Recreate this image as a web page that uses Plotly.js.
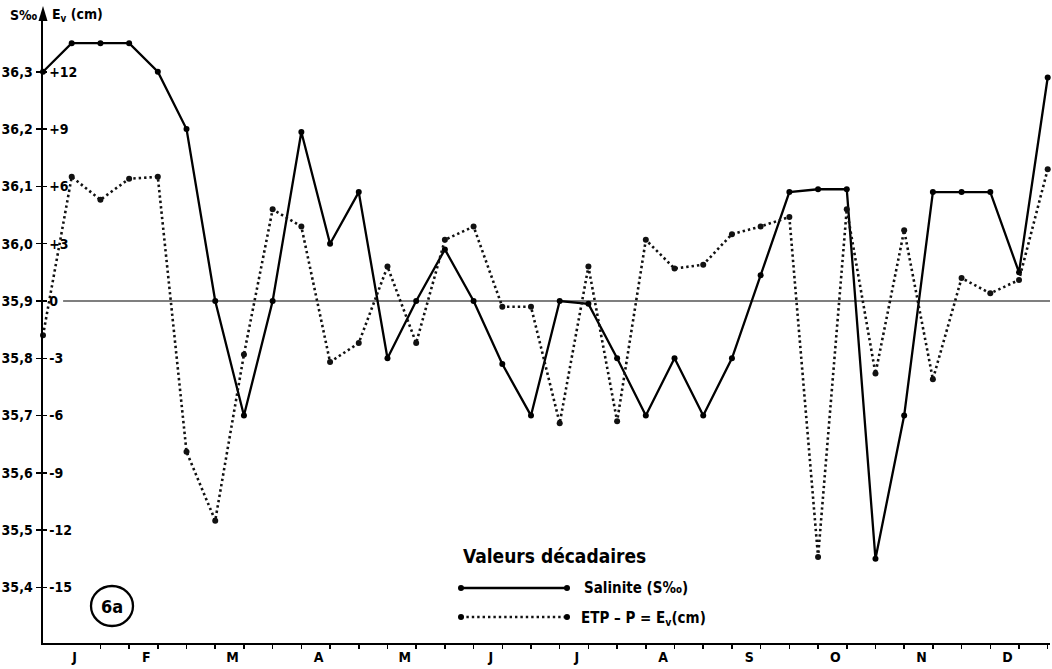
<!DOCTYPE html>
<html><head><meta charset="utf-8">
<script src="https://cdn.plot.ly/plotly-3.0.1.min.js"></script>
<style>html,body{margin:0;padding:0;background:#fff}#chart{width:1052px;height:669px}</style>
</head><body><div id="chart"></div>
<script>
// ---- data (decadal values, 36 decades) ----
const decades = [1,2,3,4,5,6,7,8,9,10,11,12,13,14,15,16,17,18,19,20,21,22,23,24,25,26,27,28,29,30,31,32,33,34,35,36];
const months = ['J','F','M','A','M','J','J','A','S','O','N','D'];
const salinity = [36.30,36.35,36.35,36.35,36.30,36.20,35.90,35.70,35.90,36.195,36.00,36.09,35.80,35.90,35.99,35.90,35.79,35.70,35.90,35.895,35.80,35.70,35.80,35.70,35.80,35.945,36.09,36.095,36.095,35.45,35.70,36.09,36.09,36.09,35.95,36.29];
const evaporation = [-1.8,6.5,5.3,6.4,6.5,-7.9,-11.5,-2.8,4.8,3.9,-3.2,-2.2,1.8,-2.2,3.2,3.9,-0.3,-0.3,-6.4,1.8,-6.3,3.2,1.7,1.9,3.5,3.9,4.4,-13.4,4.8,-3.8,3.7,-4.1,1.2,0.4,1.1,6.9];
const salTicks = [35.4,35.5,35.6,35.7,35.8,35.9,36.0,36.1,36.2,36.3];
const salTickText = ['35,4','35,5','35,6','35,7','35,8','35,9','36,0','36,1','36,2','36,3'];
const evTicks = [-15,-12,-9,-6,-3,0,3,6,9,12];
const evTickText = ['-15','-12','-9','-6','-3','0','+3','+6','+9','+12'];
const salRef = 35.9;      // salinity level matching Ev = 0
const evPerSal = 30;      // 0.1 S‰ <-> 3 cm

// ---- layout geometry ----
const W = 1052, H = 669, ML = 43, MR = 2, MT = 20, MB = 26;
const PW = W - ML - MR, PH = H - MT - MB;
const PX = p => (p - ML) / PW;
const PY = p => (H - MB - p) / PH;
const salRange = [35.3031, 36.3904];
const evRange = salRange.map(s => (s - salRef) * evPerSal);
const xRange = [1, 36.08];
const FONT = '"DejaVu Sans Condensed","Liberation Sans Narrow","Roboto Condensed","DejaVu Sans",sans-serif';
const monthPos = months.map((m, i) => i === 0 ? 2.1 : 3 * i + 1.6);

const traces = [
  {x: decades, y: evaporation, yaxis: 'y2', mode: 'lines+markers', cliponaxis: false,
   line: {color: '#111', width: 2.6, dash: '2.4px,3px'}, marker: {color: '#111', size: 6},
   name: 'ETP - P = Ev (cm)', showlegend: false},
  {x: decades, y: salinity, mode: 'lines+markers', cliponaxis: false,
   line: {color: '#000', width: 2.3}, marker: {color: '#000', size: 6},
   name: 'Salinite (S‰)', showlegend: false}
];

const tf = {family: FONT, size: 14, color: '#000', weight: 'bold'};

const shapes = [
  {type: 'line', xref: 'x', yref: 'y', x0: 1.7, x1: xRange[1], y0: salRef, y1: salRef,
   line: {color: '#555', width: 1.4}, layer: 'below'},
  // legend samples
  {type: 'line', xref: 'paper', yref: 'paper', x0: PX(461), x1: PX(567), y0: PY(588), y1: PY(588), line: {color: '#000', width: 2.3}},
  {type: 'line', xref: 'paper', yref: 'paper', x0: PX(461), x1: PX(567), y0: PY(617), y1: PY(617), line: {color: '#111', width: 2.4, dash: '2.4px,3px'}},
  // circle around 6a
  {type: 'circle', xref: 'paper', yref: 'paper', x0: PX(91), x1: PX(133), y0: PY(626), y1: PY(586), line: {color: '#000', width: 2.3}},
  // y-axis arrow: stem above the plot and arrow head
  {type: 'line', xref: 'paper', yref: 'paper', x0: 0, x1: 0, y0: 1, y1: PY(14), line: {color: '#000', width: 2.5}},
  {type: 'path', xref: 'paper', yref: 'paper', xsizemode: 'pixel', ysizemode: 'pixel',
   xanchor: 0, yanchor: PY(6), path: 'M -4.5 -15 L 0 0 L 4.5 -15 Z', fillcolor: '#000', line: {width: 0}}
];
[[461,588],[567,588],[461,617],[567,617]].forEach(([px, py]) => shapes.push({
  type: 'circle', xref: 'paper', yref: 'paper', xsizemode: 'pixel', ysizemode: 'pixel',
  xanchor: PX(px), yanchor: PY(py), x0: -3, x1: 3, y0: -3, y1: 3,
  fillcolor: '#000', line: {width: 0}
}));

const annotations = [
  {xref: 'paper', yref: 'paper', x: PX(461), y: PY(556), xanchor: 'left', yanchor: 'middle', showarrow: false,
   text: 'Valeurs décadaires', font: {family: FONT, size: 19, color: '#000', weight: 'bold'}},
  {xref: 'paper', yref: 'paper', x: PX(582), y: PY(588), xanchor: 'left', yanchor: 'middle', showarrow: false,
   text: 'Salinite (S‰)', font: {family: FONT, size: 15, color: '#000', weight: 'bold'}},
  {xref: 'paper', yref: 'paper', x: PX(579), y: PY(618), xanchor: 'left', yanchor: 'middle', showarrow: false,
   text: 'ETP – P = E<sub>v</sub>(cm)', font: {family: FONT, size: 15, color: '#000', weight: 'bold'}},
  {xref: 'paper', yref: 'paper', x: PX(112), y: PY(606), xanchor: 'center', yanchor: 'middle', showarrow: false,
   text: '6a', font: {family: FONT, size: 18, color: '#000', weight: 'bold'}},
  {xref: 'paper', yref: 'paper', x: PX(39), y: PY(15), xanchor: 'right', yanchor: 'middle', showarrow: false,
   text: 'S‰', font: {family: FONT, size: 14, color: '#000', weight: 'bold'}},
  {xref: 'paper', yref: 'paper', x: PX(50), y: PY(15), xanchor: 'left', yanchor: 'middle', showarrow: false,
   text: 'E<sub>v</sub> (cm)', font: {family: FONT, size: 14, color: '#000', weight: 'bold'}}
];

const layout = {
  width: W, height: H, margin: {l: ML, r: MR, t: MT, b: MB, pad: 0},
  paper_bgcolor: '#fff', plot_bgcolor: '#fff', showlegend: false,
  font: {family: FONT, color: '#000'},
  xaxis: {range: xRange, tickvals: decades, showticklabels: false, ticks: 'outside', ticklen: 4,
          tickwidth: 1.5, tickcolor: '#000', showline: true, linewidth: 2.2, linecolor: '#000',
          showgrid: false, zeroline: false, automargin: false, fixedrange: true},
  xaxis2: {overlaying: 'x', side: 'bottom', anchor: 'y', range: xRange, tickvals: monthPos, ticktext: months,
           ticks: '', tickfont: tf, ticklabelstandoff: 4, showline: false, showgrid: false, zeroline: false,
           automargin: false, fixedrange: true},
  yaxis: {range: salRange, tickvals: salTicks, ticktext: salTickText, ticks: 'outside', ticklen: 5,
          tickwidth: 1.5, tickcolor: '#000', tickfont: tf, showline: true, linewidth: 2.5, linecolor: '#000',
          showgrid: false, zeroline: false, automargin: false, ticklabelstandoff: 0, fixedrange: true},
  yaxis2: {overlaying: 'y', side: 'left', anchor: 'x', range: evRange, tickvals: evTicks, ticktext: evTickText,
           ticks: 'inside', ticklen: 4, tickwidth: 1.5, tickcolor: '#000', ticklabelposition: 'inside',
           ticklabelstandoff: 2, tickfont: tf, showline: false, showgrid: false, zeroline: false,
           automargin: false, fixedrange: true},
  shapes: shapes, annotations: annotations
};

// invisible anchor trace so xaxis2 (month labels) is drawn
traces.push({x: [decades[0]], y: [salinity[0]], xaxis: 'x2', mode: 'markers', marker: {opacity: 0}, hoverinfo: 'skip', showlegend: false});

Plotly.newPlot('chart', traces, layout, {displayModeBar: false, staticPlot: true});
</script>
</body></html>
